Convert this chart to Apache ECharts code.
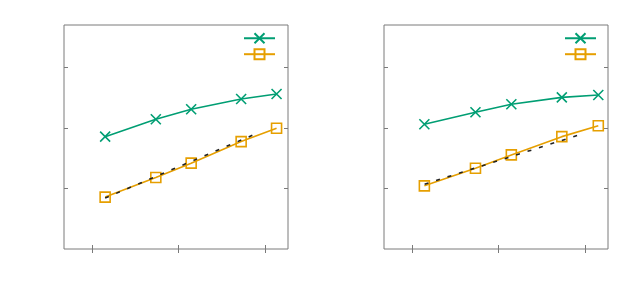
<!DOCTYPE html>
<html>
<head>
<meta charset="utf-8">
<script src="https://cdn.jsdelivr.net/npm/echarts@6/dist/echarts.min.js"></script>
<style>html,body{margin:0;padding:0;background:#fff}#c{width:634px;height:288px}</style>
</head>
<body>
<div id="c"></div>
<script>
// Tick positions (no labels in the reference)
const xTicks = [1, 2, 3];
const yTicks = [1, 2, 3];

// Left panel
const xLeft = [1.152, 1.737, 2.145, 2.722, 3.131];
const greenLeft = [1.856, 2.143, 2.308, 2.477, 2.560];
const orangeLeft = [0.857, 1.180, 1.418, 1.774, 1.994];
const dashXLeft = [1.152, 2.908];
const dashYLeft = [0.841, 1.912];

// Right panel
const xRight = [1.143, 1.733, 2.147, 2.730, 3.151];
const greenRight = [2.060, 2.258, 2.390, 2.505, 2.543];
const orangeRight = [1.043, 1.335, 1.554, 1.856, 2.037];
const dashXRight = [1.146, 2.990];
const dashYRight = [1.071, 1.912];

const GREEN = '#009e73', ORANGE = '#e69f00', BORDER = '#7a7a7a';
const X_MIN = 0.677, X_MAX = 3.263, Y_MIN = 0, Y_MAX = 3.7;
const CROSS = 'path://M0,0L10,10M0,10L10,0';

function zip(a, b) { return a.map((v, i) => [v, b[i]]); }

function xAx(grid, pos) {
  return {
    type: 'value', gridIndex: grid, position: pos, min: X_MIN, max: X_MAX,
    axisLine: { show: false }, splitLine: { show: false },
    axisLabel: { show: false },
    axisTick: { show: true, inside: true, length: 4, customValues: xTicks, lineStyle: { color: BORDER, width: 1 } }
  };
}
function yAx(grid, pos) {
  return {
    type: 'value', gridIndex: grid, position: pos, min: Y_MIN, max: Y_MAX,
    axisLine: { show: false }, splitLine: { show: false },
    axisLabel: { show: false },
    axisTick: { show: true, inside: true, length: 4, customValues: yTicks, lineStyle: { color: BORDER, width: 1 } }
  };
}

function panelSeries(p, xs, g, o, dx, dy) {
  const xi = p * 2, yi = p * 2;
  return [
    {
      name: 'g' + p, type: 'line', xAxisIndex: xi, yAxisIndex: yi,
      data: zip(xs, g), symbol: CROSS, symbolSize: 10,
      lineStyle: { color: GREEN, width: 1.6 },
      itemStyle: { color: 'transparent', borderColor: GREEN, borderWidth: 1.6 },
      emphasis: { disabled: true }, z: 2
    },
    {
      name: 'o' + p, type: 'line', xAxisIndex: xi, yAxisIndex: yi,
      data: zip(xs, o), symbol: 'rect', symbolSize: 10,
      lineStyle: { color: ORANGE, width: 1.6 },
      itemStyle: { color: 'transparent', borderColor: ORANGE, borderWidth: 1.6 },
      emphasis: { disabled: true }, z: 2
    },
    {
      name: 'd' + p, type: 'line', xAxisIndex: xi, yAxisIndex: yi,
      data: zip(dx, dy), symbol: 'none',
      lineStyle: { color: '#222', width: 1.6, type: [4, 8] },
      emphasis: { disabled: true }, z: 3
    }
  ];
}

function legend(p, left) {
  return {
    data: ['g' + p, 'o' + p], orient: 'vertical', left: left, top: 32, padding: 0,
    itemWidth: 31, itemHeight: 12.5, itemGap: 3.7,
    formatter: () => '', selectedMode: false,
    textStyle: { fontSize: 1 }
  };
}

const chart = echarts.init(document.getElementById('c'), null, { renderer: 'canvas' });
chart.setOption({
  animation: false,
  backgroundColor: '#fff',
  grid: [
    { left: 64, top: 25, width: 224, height: 224, show: true, borderColor: BORDER, borderWidth: 1, backgroundColor: 'transparent' },
    { left: 384, top: 25, width: 224, height: 224, show: true, borderColor: BORDER, borderWidth: 1, backgroundColor: 'transparent' }
  ],
  xAxis: [xAx(0, 'bottom'), xAx(0, 'top'), xAx(1, 'bottom'), xAx(1, 'top')],
  yAxis: [yAx(0, 'left'), yAx(0, 'right'), yAx(1, 'left'), yAx(1, 'right')],
  legend: [legend(0, 243), legend(1, 564)],
  series: [].concat(
    panelSeries(0, xLeft, greenLeft, orangeLeft, dashXLeft, dashYLeft),
    panelSeries(1, xRight, greenRight, orangeRight, dashXRight, dashYRight)
  )
});
</script>
</body>
</html>
